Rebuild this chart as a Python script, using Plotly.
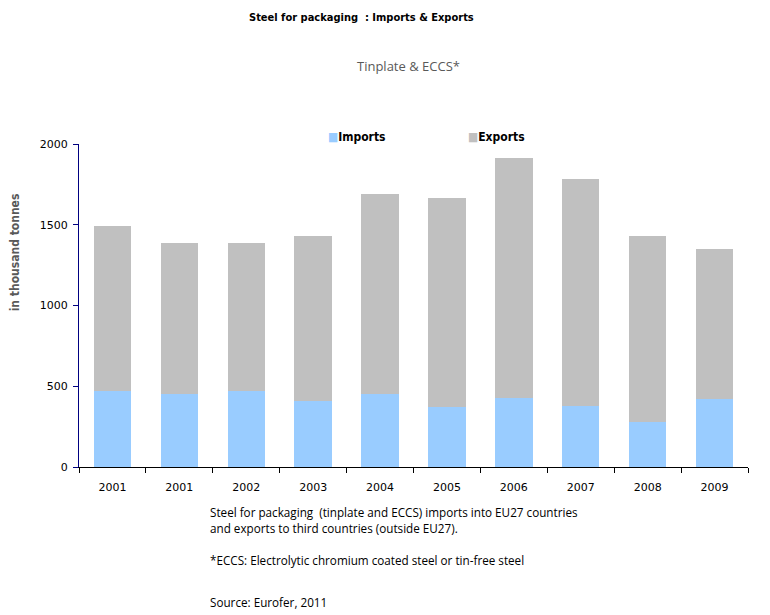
import plotly.graph_objects as go

years = ["2001", "2001", "2002", "2003", "2004", "2005", "2006", "2007", "2008", "2009"]
imports = [469, 452, 469, 408, 452, 371, 428, 379, 280, 420]
exports = [1026, 933, 921, 1020, 1241, 1292, 1487, 1407, 1148, 928]
y_ticks = [0, 500, 1000, 1500, 2000]

OFF = 8  # page body margin
W, H = 770 - OFF, 615 - OFF
L, R, T, B = 79 - OFF, 22, 143.5 - OFF, 148
pw = W - L - R
ph = H - T - B

def px(x):
    return (x - OFF - L) / pw

def py(y):
    return (H - B - (y - OFF)) / ph

idx = list(range(len(years)))
IMP_COL, EXP_COL = "#99CCFF", "#C0C0C0"

fig = go.Figure()
fig.add_trace(go.Bar(x=idx, y=imports, name="Imports", marker=dict(color=IMP_COL, line=dict(width=0))))
fig.add_trace(go.Bar(x=idx, y=exports, name="Exports", marker=dict(color=EXP_COL, line=dict(width=0))))

tickfont = dict(family="DejaVu Sans", size=11, color="#000000")

fig.update_layout(
    width=W, height=H,
    margin=dict(l=L, r=R, t=T, b=B),
    barmode="stack", bargap=0.44,
    plot_bgcolor="white", paper_bgcolor="white",
    showlegend=False,
    xaxis=dict(
        range=[-0.5, len(years) - 0.5],
        tickmode="array", tickvals=idx, ticktext=years, ticks="",
        ticklabelstandoff=10,
        showline=True, linecolor="#000000", linewidth=1,
        showgrid=False, zeroline=False, tickfont=tickfont,
        minor=dict(tickmode="array", tickvals=[i - 0.5 for i in range(len(years) + 1)],
                   ticks="outside", ticklen=5, tickcolor="#000000", showgrid=False),
    ),
    yaxis=dict(
        range=[0, 2000], tickmode="array", tickvals=y_ticks,
        ticks="outside", ticklen=5, tickcolor="#000080",
        ticklabelstandoff=3,
        showline=True, linecolor="#000080", linewidth=1,
        showgrid=False, zeroline=False, tickfont=tickfont,
    ),
    font=dict(family="DejaVu Sans"),
)

narrow = "DejaVu Sans Condensed, DejaVu Sans"
annos = [
    dict(text="<b>Steel for packaging  : Imports & Exports</b>", x=px(361), y=py(17),
         font=dict(family=narrow, size=11, color="#000000")),
    dict(text="Tinplate & ECCS*", x=px(408), y=py(65),
         font=dict(family="Open Sans, DejaVu Sans", size=13, color="#595959")),
    dict(text="<b>in thousand tonnes</b>", x=px(15), y=py(252), textangle=-90,
         font=dict(family=narrow, size=12, color="#595959")),
    dict(text=f'<span style="color:{IMP_COL}">■</span><b>Imports</b>', x=px(326), y=py(136), xanchor="left",
         font=dict(family=narrow, size=12, color="#000000")),
    dict(text=f'<span style="color:{EXP_COL}">■</span><b>Exports</b>', x=px(466), y=py(136), xanchor="left",
         font=dict(family=narrow, size=12, color="#000000")),
]
foot_font = dict(family="Open Sans, DejaVu Sans Condensed", size=11.7, color="#000000")
foot = [
    ("Steel for packaging  (tinplate and ECCS) imports into EU27 countries", 512),
    ("and exports to third countries (outside EU27).", 528),
    ("*ECCS: Electrolytic chromium coated steel or tin-free steel", 560),
    ("Source: Eurofer, 2011", 602),
]
for t, yy in foot:
    annos.append(dict(text=t, x=px(208), y=py(yy), xanchor="left", font=foot_font))

for a in annos:
    a.setdefault("xanchor", "center")
    a.update(xref="paper", yref="paper", yanchor="middle", showarrow=False)
    fig.add_annotation(**a)

fig.write_html("out.html")
